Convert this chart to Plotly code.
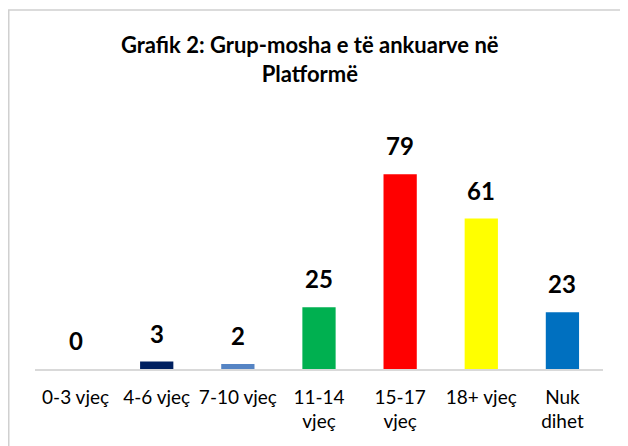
import plotly.graph_objects as go

categories = ["0-3 vjeç", "4-6 vjeç", "7-10 vjeç", "11-14<br>vjeç", "15-17<br>vjeç", "18+ vjeç", "Nuk<br>dihet"]
values = [0, 3, 2, 25, 79, 61, 23]
colors = ["#002060", "#002060", "#5584c4", "#00b050", "#ff0000", "#ffff00", "#0070c0"]

title_text = "Grafik 2: Grup-mosha e të ankuarve në<br>Platformë"

FONT = "Lato"

fig = go.Figure()
fig.add_trace(go.Bar(
    x=categories, y=values, marker=dict(color=colors, line=dict(width=0)),
    width=0.41, hoverinfo="skip",
))

annotations = [
    dict(x=c, y=v, text=f"<b>{v}</b>", showarrow=False, yanchor="bottom", yshift=12,
         font=dict(family=FONT, size=24, color="#000000"), xref="x", yref="y")
    for c, v in zip(categories, values)
]
annotations.append(dict(
    x=0.485, y=1.396, xref="paper", yref="paper", text=f"<b>{title_text}</b>",
    showarrow=False, xanchor="center", yanchor="middle",
    font=dict(family=FONT, size=22, color="#000000"),
))

fig.update_layout(
    width=628, height=446,
    margin=dict(l=27, r=33, t=139, b=85, autoexpand=False),
    paper_bgcolor="white", plot_bgcolor="white",
    showlegend=False,
    bargap=0.59,
    annotations=annotations,
    shapes=[dict(type="rect", xref="paper", yref="paper",
                 x0=-0.0462, x1=1.2, y0=-0.5, y1=1.617,
                 line=dict(color="#d0d0d0", width=1.5), fillcolor="rgba(0,0,0,0)", layer="above")],
    xaxis=dict(
        showline=True, linecolor="#d9d9d9", linewidth=1.5, automargin=False,
        showgrid=False, zeroline=False, ticks="", ticklabelstandoff=10,
        tickfont=dict(family=FONT, size=19, color="#000000"),
        fixedrange=True,
    ),
    yaxis=dict(range=[0, 90], visible=False, showgrid=False, zeroline=False, fixedrange=True, automargin=False),
)

fig.write_html("out.html")
